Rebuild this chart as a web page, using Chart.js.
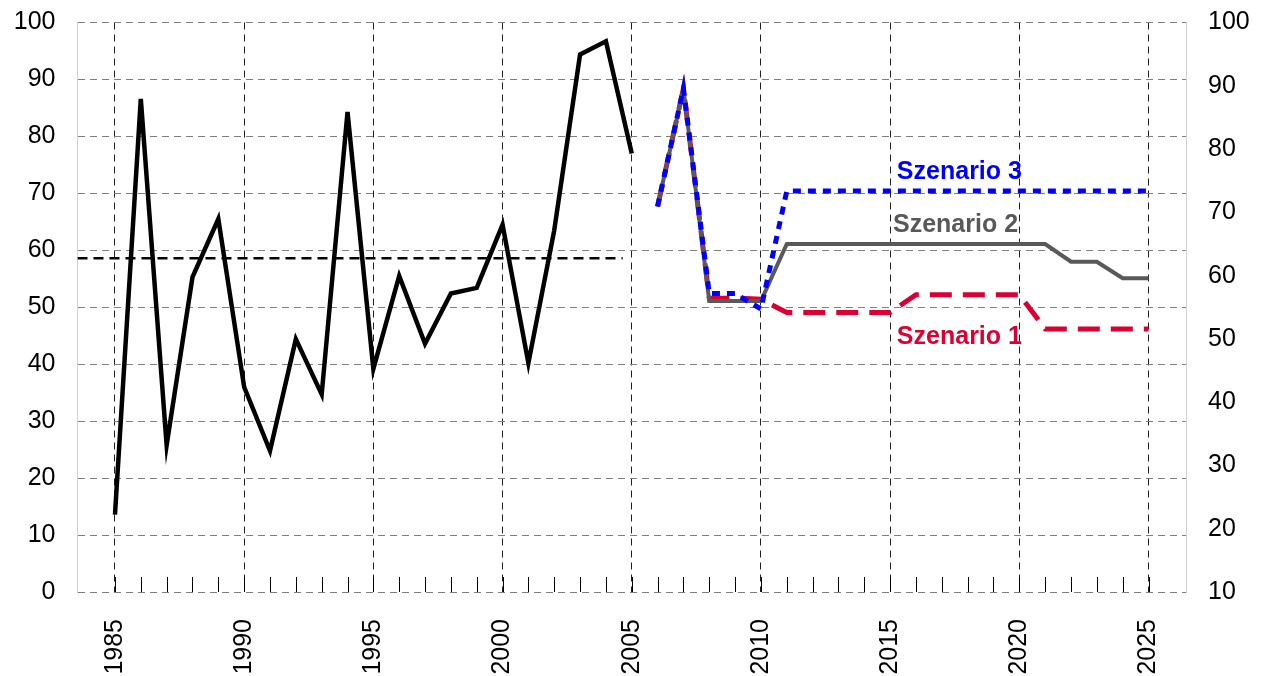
<!DOCTYPE html>
<html>
<head>
<meta charset="utf-8">
<script src="https://cdn.jsdelivr.net/npm/chart.js@4/dist/chart.umd.min.js"></script>
<style>
  html, body { margin: 0; padding: 0; background: #fff; }
  #wrap { width: 1268px; height: 676px; }
</style>
</head>
<body>
<div id="wrap"><canvas id="c" width="1268" height="676"></canvas></div>
<script>
// ---- data ----
const histYears = [1985,1986,1987,1988,1989,1990,1991,1992,1993,1994,1995,1996,1997,1998,1999,2000,2001,2002,2003,2004,2005];
const histValues = [13.6, 86.6, 25.8, 55.3, 65.5, 36.0, 24.8, 44.4, 34.7, 84.3, 39.2, 55.5, 43.6, 52.4, 53.4, 64.5, 40.2, 63.5, 94.4, 96.7, 77.0];
const meanYears = [1983.55, 2004.65];
const meanValues = [58.6, 58.6];
const scenYears = [2006,2007,2008,2009,2010,2011,2012,2013,2014,2015,2016,2017,2018,2019,2020,2021,2022,2023,2024,2025];
const scen1 = [67.7, 88.4, 51.6, 51.6, 51.4, 49.1, 49.1, 49.1, 49.1, 49.1, 52.2, 52.2, 52.2, 52.2, 52.2, 46.2, 46.2, 46.2, 46.2, 46.2];
const scen2 = [67.7, 88.4, 51.1, 51.1, 51.1, 61.1, 61.1, 61.1, 61.1, 61.1, 61.1, 61.1, 61.1, 61.1, 61.1, 61.1, 58.0, 58.0, 55.1, 55.1];
const scen3 = [67.7, 88.4, 52.4, 52.4, 49.7, 70.4, 70.4, 70.4, 70.4, 70.4, 70.4, 70.4, 70.4, 70.4, 70.4, 70.4, 70.4, 70.4, 70.4, 70.4];
const scenNames = ['Szenario 1', 'Szenario 2', 'Szenario 3'];
const majorYears = [1985, 1990, 1995, 2000, 2005, 2010, 2015, 2020, 2025];
const minorYears = Array.from({length: 41}, (_, i) => 1985 + i);
const leftTicks = [0,10,20,30,40,50,60,70,80,90,100];
const rightTicks = [10,20,30,40,50,60,70,80,90,100];

// ---- styles ----
const RED = '#DC0032', GRAY = '#595959', BLUE = '#0000FF';
const FONT = "'Liberation Sans', Arial, sans-serif";
const labelAnchors = [
  {x: 2020.1, y: 44.8, color: RED},
  {x: 2019.95, y: 64.5, color: GRAY},
  {x: 2020.1, y: 73.8, color: BLUE}
];

const pts = (xs, ys) => xs.map((x, i) => ({x: x, y: ys[i]}));

const minorTickPlugin = {
  id: 'minorTicks',
  afterDatasetsDraw(chart) {
    const {ctx, chartArea, scales} = chart;
    ctx.save();
    ctx.strokeStyle = '#000';
    ctx.lineWidth = 1;
    ctx.beginPath();
    minorYears.forEach(yr => {
      const px = Math.round(scales.x.getPixelForValue(yr)) + 0.5;
      ctx.moveTo(px, chartArea.bottom);
      ctx.lineTo(px, chartArea.bottom - 15);
    });
    ctx.stroke();
    ctx.font = "bold 25px " + FONT;
    ctx.textAlign = 'right';
    ctx.textBaseline = 'middle';
    labelAnchors.forEach((a, i) => {
      ctx.fillStyle = a.color;
      ctx.fillText(scenNames[i], scales.x.getPixelForValue(a.x), scales.y.getPixelForValue(a.y));
    });
    ctx.restore();
  }
};

const noPadV = s => { s.paddingTop = 0; s.paddingBottom = 0; };

new Chart(document.getElementById('c'), {
  type: 'line',
  data: {
    datasets: [
      {data: pts(scenYears, scen3), borderColor: BLUE, borderWidth: 5, borderDash: [8, 7], borderCapStyle: 'butt', pointRadius: 0, tension: 0, yAxisID: 'y'},
      {data: pts(scenYears, scen2), borderColor: GRAY, borderWidth: 4, pointRadius: 0, tension: 0, yAxisID: 'y'},
      {data: pts(scenYears, scen1), borderColor: RED, borderWidth: 5, borderDash: [22, 11], borderCapStyle: 'butt', pointRadius: 0, tension: 0, yAxisID: 'y'},
      {data: pts(histYears, histValues), borderColor: '#000', borderWidth: 4.5, pointRadius: 0, tension: 0, yAxisID: 'y'},
      {data: pts(meanYears, meanValues), borderColor: '#000', borderWidth: 2.5, borderDash: [10, 6], pointRadius: 0, tension: 0, yAxisID: 'y'}
    ]
  },
  options: {
    responsive: false,
    animation: false,
    devicePixelRatio: 1,
    layout: {padding: {top: 22.5, left: 0, right: 0, bottom: 0}},
    plugins: {legend: {display: false}, tooltip: {enabled: false}},
    scales: {
      x: {
        type: 'linear',
        min: 1983.55,
        max: 2026.45,
        afterBuildTicks: s => { s.ticks = majorYears.map(v => ({value: v})); },
        afterFit: s => { s.height = 84; s.paddingLeft = 0; s.paddingRight = 0; },
        ticks: {
          minRotation: 90, maxRotation: 90, autoSkip: false, padding: 27,
          color: '#000', font: {family: FONT, size: 25},
          callback: v => String(v)
        },
        grid: {color: '#222', lineWidth: 1, drawTicks: false},
        border: {display: false, dash: [7, 5]}
      },
      y: {
        position: 'left',
        min: 0, max: 100,
        afterBuildTicks: s => { s.ticks = leftTicks.map(v => ({value: v})); },
        afterFit: s => { s.width = 77.5; noPadV(s); },
        ticks: {padding: 22, color: '#000', font: {family: FONT, size: 25}},
        grid: {color: '#808080', lineWidth: 1, drawTicks: false},
        border: {display: true, color: '#cfcfcf', width: 1, dash: [7, 5]}
      },
      y2: {
        position: 'right',
        min: 10, max: 100,
        afterBuildTicks: s => { s.ticks = rightTicks.map(v => ({value: v})); },
        afterFit: s => { s.width = 82; noPadV(s); },
        ticks: {padding: 22, color: '#000', font: {family: FONT, size: 25}},
        grid: {display: false, drawTicks: false},
        border: {display: true, color: '#cfcfcf', width: 1}
      }
    }
  },
  plugins: [minorTickPlugin]
});
</script>
</body>
</html>
